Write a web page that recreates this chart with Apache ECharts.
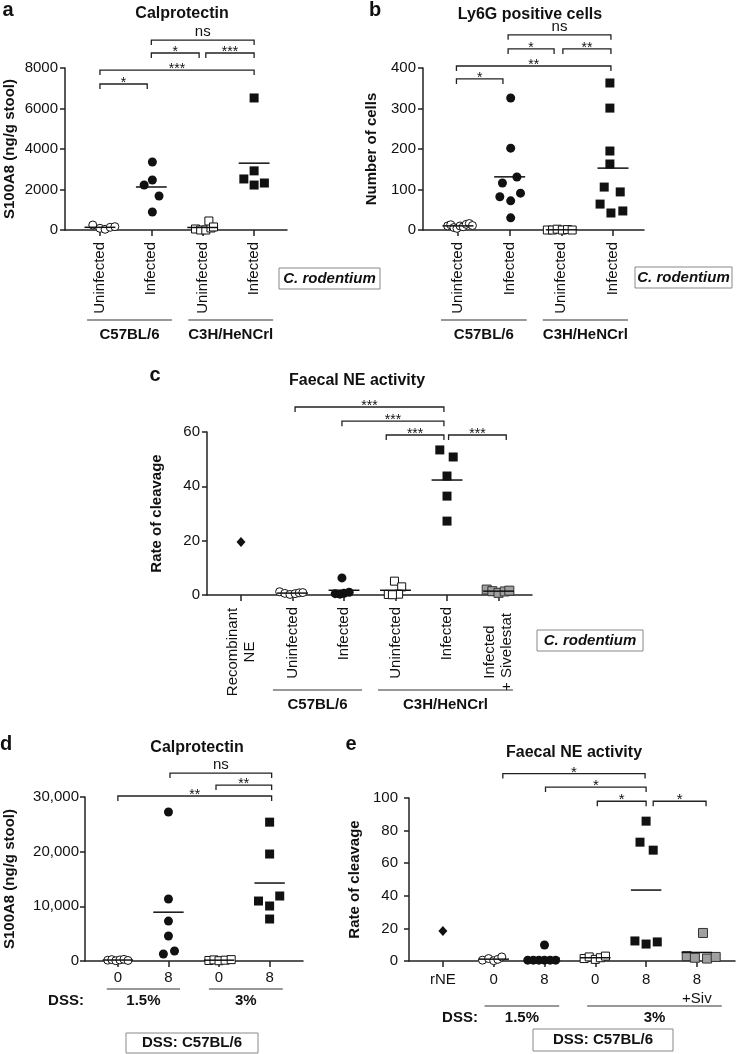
<!DOCTYPE html>
<html>
<head>
<meta charset="utf-8">
<script src="https://cdn.jsdelivr.net/npm/echarts@6/dist/echarts.min.js"></script>
<style>
  html, body { margin: 0; padding: 0; background: #fff; }
  #chart { width: 736px; height: 1054px; }
</style>
</head>
<body>
<div id="chart"></div>
<script>
// ---------------- DATA ----------------
// Panel a: Calprotectin (C. rodentium)
const aCats = ['Uninfected', 'Infected', 'Uninfected', 'Infected'];
const aTicks = [0, 2000, 4000, 6000, 8000];
const aUninfC57 = [247, 84, 35, 133, 165];
const aUninfC57Jit = [-0.14, 0, 0.1, 0.2, 0.29];
const aInfC57 = [3360, 2220, 2470, 1680, 890];
const aInfC57Jit = [0.02, -0.14, 0.02, 0.15, 0.02];
const aUninfC3H = [50, 0, 0, 100, 445, 150];
const aUninfC3HJit = [-0.14, -0.04, 0.06, 0.16, 0.12, 0.21];
const aInfC3H = [6520, 2920, 2520, 2220, 2320];
const aInfC3HJit = [0, 0, -0.2, 0, 0.2];
const aBrackets = [[1, 1.92, 7210, '*'], [1, 4, 7900, '***'], [2, 2.93, 8740, '*'], [3.06, 4, 8740, '***'], [2, 4, 9380, 'ns']];

// Panel b: Ly6G positive cells
const bCats = ['Uninfected', 'Infected', 'Uninfected', 'Infected'];
const bTicks = [0, 100, 200, 300, 400];
const bUninfC57 = [10, 13, 6, 4, 10, 8, 14, 16, 11];
const bUninfC57Jit = [-0.2, -0.14, -0.08, -0.02, 0.04, 0.1, 0.16, 0.22, 0.28];
const bInfC57 = [326, 202, 131, 116, 91, 82, 72, 30];
const bInfC57Jit = [0.02, 0.02, 0.14, -0.14, 0.21, -0.19, 0.02, 0.02];
const bUninfC3H = [0, 0, 2, 0, 1, 0];
const bUninfC3HJit = [-0.27, -0.17, -0.08, 0.02, 0.12, 0.21];
const bInfC3H = [363, 301, 195, 163, 106, 94, 64, 42, 47];
const bInfC3HJit = [-0.06, -0.06, -0.06, -0.06, -0.17, 0.14, -0.25, -0.04, 0.19];
const bBrackets = [[0.97, 1.87, 373, '*'], [0.97, 3.96, 405, '**'], [1.97, 2.86, 447, '*'], [3.03, 3.96, 447, '**'], [1.97, 3.96, 482, 'ns']];

// Panel c: Faecal NE activity (C. rodentium)
const cCats = ['Recombinant\nNE', 'Uninfected', 'Infected', 'Uninfected', 'Infected', 'Infected\n+ Sivelestat'];
const cTicks = [0, 20, 40, 60];
const cRecNE = [19.5];
const cRecNEJit = [0];
const cUninfC57 = [1.2, 0.6, 0.2, 0.5, 0.8, 0.9];
const cUninfC57Jit = [-0.25, -0.15, -0.05, 0.05, 0.13, 0.2];
const cInfC57 = [6.3, 0.5, 0.3, 0.6, 1.0];
const cInfC57Jit = [-0.04, -0.17, -0.08, 0.0, 0.1];
const cUninfC3H = [5.1, 3.0, 0.2, 0.3, 0.1];
const cUninfC3HJit = [-0.02, 0.12, -0.14, 0.06, -0.06];
const cInfC3H = [53.4, 50.8, 43.8, 36.4, 27.2];
const cInfC3HJit = [-0.14, 0.12, 0, 0, 0];
const cInfSiv = [2.0, 1.4, 0.8, 1.3, 1.6];
const cInfSivJit = [-0.23, -0.12, 0, 0.12, 0.21];
const cBrackets = [[2.05, 4.94, 69.2, '***'], [2.96, 4.94, 64, '***'], [3.82, 4.94, 58.9, '***'], [5.03, 6.15, 58.9, '***']];

// Panel d: Calprotectin (DSS)
const dCats = ['0', '8', '0', '8'];
const dTicks = [0, 10000, 20000, 30000];
const d15Day0 = [150, 250, 50, 200, 300, 100];
const d15Day0Jit = [-0.2, -0.12, -0.04, 0.04, 0.12, 0.2];
const d15Day8 = [27250, 11340, 7300, 4570, 1830, 1280];
const d15Day8Jit = [0, 0, 0, 0, 0.12, -0.1];
const d3Day0 = [100, 200, 50, 150, 250];
const d3Day0Jit = [-0.2, -0.1, 0, 0.12, 0.24];
const d3Day8 = [25400, 19570, 11890, 10970, 10060, 7680];
const d3Day8Jit = [0, 0, 0.2, -0.22, 0, 0];
const dBrackets = [[1, 4.04, 30180, '**'], [2.94, 4.04, 32190, '**'], [2.03, 4.04, 34380, 'ns']];

// Panel e: Faecal NE activity (DSS)
const eCats = ['rNE', '0', '8', '0', '8', '8\n+Siv'];
const eTicks = [0, 20, 40, 60, 80, 100];
const eRNE = [18.4];
const eRNEJit = [0];
const e15Day0 = [0.5, 1.5, 0.2, 1.0, 2.5];
const e15Day0Jit = [-0.22, -0.1, 0, 0.08, 0.16];
const e15Day8 = [9.8, 0.5, 0.5, 0.5, 0.5, 0.5, 0.5];
const e15Day8Jit = [0, -0.33, -0.22, -0.11, 0, 0.11, 0.22];
const e3Day0 = [1.5, 2.5, 1.0, 2.0, 3.0];
const e3Day0Jit = [-0.22, -0.12, 0, 0.1, 0.2];
const e3Day8 = [85.8, 72.9, 68, 12.3, 10.4, 11.7];
const e3Day8Jit = [0, -0.12, 0.14, -0.22, 0, 0.22];
const e3Day8Siv = [17.2, 3, 2, 1.5, 2.5];
const e3Day8SivJit = [0.12, -0.2, -0.04, 0.2, 0.37];
const eBrackets = [[2.18, 4.98, 115, '*'], [3.02, 5.0, 106.7, '*'], [4.04, 5.0, 98, '*'], [5.14, 6.18, 98, '*']];

// ---------------- STYLE HELPERS ----------------
const FONT = "'Liberation Sans', Arial, Helvetica, sans-serif";
const INK = '#111';
const LINE = '#222';

const OPEN_C = { symbol: 'circle', symbolSize: 8, itemStyle: { color: '#fff', borderColor: INK, borderWidth: 1, opacity: 1 } };
const FILL_C = { symbol: 'circle', symbolSize: 9, itemStyle: { color: INK, opacity: 1 } };
const OPEN_S = { symbol: 'rect', symbolSize: 8, itemStyle: { color: '#fff', borderColor: INK, borderWidth: 1, opacity: 1 } };
const FILL_S = { symbol: 'rect', symbolSize: 9, itemStyle: { color: INK, opacity: 1 } };
const GRAY_S = { symbol: 'rect', symbolSize: 9, itemStyle: { color: '#a0a0a0', borderColor: '#333', borderWidth: 1, opacity: 1 } };
const DIAM = { symbol: 'diamond', symbolSize: [9, 10], itemStyle: { color: INK, opacity: 1 } };

function mean(arr) { return arr.reduce((s, v) => s + v, 0) / arr.length; }

const series = [];

function addGroup(gi, center, vals, jit, sym, showMean, halfW) {
  series.push(Object.assign({
    type: 'scatter', xAxisIndex: gi, yAxisIndex: gi, silent: true, z: 3,
    data: vals.map((v, i) => [center + jit[i], v])
  }, JSON.parse(JSON.stringify(sym))));
  if (showMean) {
    const hw = halfW || 0.3;
    series.push({
      type: 'custom', xAxisIndex: gi, yAxisIndex: gi, silent: true, z: 4,
      data: [[center, mean(vals)]],
      renderItem: (params, api) => {
        const p1 = api.coord([api.value(0) - hw, api.value(1)]);
        const p2 = api.coord([api.value(0) + hw, api.value(1)]);
        return { type: 'line', shape: { x1: p1[0], y1: p1[1], x2: p2[0], y2: p2[1] },
          style: { stroke: INK, lineWidth: 1.5 } };
      }
    });
  }
}

function addBrackets(gi, list, starSize) {
  series.push({
    type: 'custom', xAxisIndex: gi, yAxisIndex: gi, silent: true, z: 5, clip: false,
    data: list.map(b => [b[0], b[1], b[2]]),
    encode: { x: [0, 1], y: 2 },
    renderItem: (params, api) => {
      const b = list[params.dataIndex];
      const p1 = api.coord([b[0], b[2]]);
      const p2 = api.coord([b[1], b[2]]);
      const leg = 5;
      const isNs = b[3] === 'ns';
      return { type: 'group', children: [
        { type: 'polyline', shape: { points: [[p1[0], p1[1] + leg], [p1[0], p1[1]], [p2[0], p2[1]], [p2[0], p2[1] + leg]] },
          style: { stroke: LINE, lineWidth: 1.3, fill: null } },
        { type: 'text', style: { text: b[3], x: (p1[0] + p2[0]) / 2, y: isNs ? p1[1] - 8 : p1[1] - 1,
          align: 'center', verticalAlign: 'middle', fill: INK,
          font: (isNs ? '15px ' : (starSize || 14) + 'px ') + FONT } }
      ] };
    }
  });
}

// groups under the axis: [x1, x2, label], offsets in px from the x-axis line
function addGroupLabels(gi, list, lineOff, textOff) {
  series.push({
    type: 'custom', xAxisIndex: gi, yAxisIndex: gi, silent: true, z: 5, clip: false,
    data: list.map(g => [g[0], g[1], 0]),
    encode: { x: [0, 1], y: 2 },
    renderItem: (params, api) => {
      const g = list[params.dataIndex];
      const p1 = api.coord([g[0], 0]);
      const p2 = api.coord([g[1], 0]);
      return { type: 'group', children: [
        { type: 'line', shape: { x1: p1[0], y1: p1[1] + lineOff, x2: p2[0], y2: p2[1] + lineOff },
          style: { stroke: '#333', lineWidth: 1.2 } },
        { type: 'text', style: { text: g[2], x: (p1[0] + p2[0]) / 2, y: p1[1] + textOff,
          align: 'center', verticalAlign: 'middle', fill: INK, font: 'bold 15px ' + FONT } }
      ] };
    }
  });
}

function xAx(gi, min, max, cats, rotate, margin, extra) {
  const vals = cats.map((c, i) => i + 1);
  const label = Object.assign({
    customValues: vals,
    formatter: v => cats[Math.round(v) - 1],
    rotate: rotate, margin: margin, fontSize: 15, color: INK, fontFamily: FONT
  }, extra || {});
  return {
    gridIndex: gi, type: 'value', min: min, max: max,
    axisLine: { show: true, onZero: false, lineStyle: { color: LINE, width: 1.5 } },
    axisTick: { show: true, customValues: vals, length: 6, lineStyle: { color: LINE, width: 1.5 } },
    axisLabel: label,
    splitLine: { show: false }
  };
}

function yAx(gi, ticks, name, nameGap, fmt, labelMargin) {
  return {
    gridIndex: gi, type: 'value', min: ticks[0], max: ticks[ticks.length - 1],
    interval: ticks[1] - ticks[0],
    name: name, nameLocation: 'middle', nameGap: nameGap, nameRotate: 90,
    nameTextStyle: { fontSize: 15, fontWeight: 'bold', color: INK, fontFamily: FONT },
    axisLine: { show: true, lineStyle: { color: LINE, width: 1.5 } },
    axisTick: { show: true, length: 5, lineStyle: { color: LINE, width: 1.5 } },
    axisLabel: { fontSize: 15, color: INK, fontFamily: FONT, margin: labelMargin || 7, formatter: fmt || (v => String(v)) },
    splitLine: { show: false }
  };
}

// ---------------- SERIES ----------------
// a
addGroup(0, 1, aUninfC57, aUninfC57Jit, OPEN_C, true);
addGroup(0, 2, aInfC57, aInfC57Jit, FILL_C, true);
addGroup(0, 3, aUninfC3H, aUninfC3HJit, OPEN_S, true);
addGroup(0, 4, aInfC3H, aInfC3HJit, FILL_S, true);
addBrackets(0, aBrackets);
addGroupLabels(0, [[0.75, 2.4, 'C57BL/6'], [2.72, 4.37, 'C3H/HeNCrl']], 90, 105);
// b
addGroup(1, 1, bUninfC57, bUninfC57Jit, OPEN_C, true);
addGroup(1, 2, bInfC57, bInfC57Jit, FILL_C, true);
addGroup(1, 3, bUninfC3H, bUninfC3HJit, OPEN_S, true);
addGroup(1, 4, bInfC3H, bInfC3HJit, FILL_S, true);
addBrackets(1, bBrackets);
addGroupLabels(1, [[0.67, 2.33, 'C57BL/6'], [2.64, 4.29, 'C3H/HeNCrl']], 90, 105);
// c
addGroup(2, 1, cRecNE, cRecNEJit, DIAM, false);
addGroup(2, 2, cUninfC57, cUninfC57Jit, OPEN_C, true);
addGroup(2, 3, cInfC57, cInfC57Jit, FILL_C, true);
addGroup(2, 4, cUninfC3H, cUninfC3HJit, OPEN_S, true);
addGroup(2, 5, cInfC3H, cInfC3HJit, FILL_S, true);
addGroup(2, 6, cInfSiv, cInfSivJit, GRAY_S, true);
addBrackets(2, cBrackets);
addGroupLabels(2, [[1.62, 3.35, 'C57BL/6'], [3.66, 6.28, 'C3H/HeNCrl']], 95, 110);
// d
addGroup(3, 1, d15Day0, d15Day0Jit, OPEN_C, true);
addGroup(3, 2, d15Day8, d15Day8Jit, FILL_C, true);
addGroup(3, 3, d3Day0, d3Day0Jit, OPEN_S, true);
addGroup(3, 4, d3Day8, d3Day8Jit, FILL_S, true);
addBrackets(3, dBrackets);
addGroupLabels(3, [[0.78, 2.23, '1.5%'], [2.8, 4.26, '3%']], 28, 40);
// e
addGroup(4, 1, eRNE, eRNEJit, DIAM, false);
addGroup(4, 2, e15Day0, e15Day0Jit, OPEN_C, true);
addGroup(4, 3, e15Day8, e15Day8Jit, FILL_C, true);
addGroup(4, 4, e3Day0, e3Day0Jit, OPEN_S, true);
addGroup(4, 5, e3Day8, e3Day8Jit, FILL_S, true);
addGroup(4, 6, e3Day8Siv, e3Day8SivJit, GRAY_S, true);
addBrackets(4, eBrackets, 15);
addGroupLabels(4, [[1.82, 3.29, '1.5%'], [3.84, 6.49, '3%']], 45, 57);

// ---------------- GRAPHIC (titles, letters, boxes) ----------------
function txt(x, y, text, font, align) {
  return { type: 'text', x: x, y: y, silent: true,
    style: { text: text, font: font, fill: INK, align: align || 'center', verticalAlign: 'middle' } };
}
function box(x, y, w, h, text, font) {
  return { type: 'group', silent: true, children: [
    { type: 'rect', shape: { x: x, y: y, width: w, height: h }, style: { fill: '#fff', stroke: '#888', lineWidth: 1 } },
    txt(x + w / 2, y + h / 2, text, font)
  ] };
}
const TITLE_F = 'bold 16px ' + FONT;
const LETTER_F = 'bold 20px ' + FONT;
const BOX_IT = 'italic bold 15px ' + FONT;
const BOX_F = 'bold 15px ' + FONT;

const graphic = [
  txt(8, 10, 'a', LETTER_F), txt(375, 10, 'b', LETTER_F), txt(155, 375, 'c', LETTER_F),
  txt(6, 744, 'd', LETTER_F), txt(351, 744, 'e', LETTER_F),
  txt(182, 14, 'Calprotectin', TITLE_F),
  txt(530, 15, 'Ly6G positive cells', TITLE_F),
  txt(357, 381, 'Faecal NE activity', TITLE_F),
  txt(197, 748, 'Calprotectin', TITLE_F),
  txt(574, 753, 'Faecal NE activity', TITLE_F),
  box(279, 268, 101, 21, 'C. rodentium', BOX_IT),
  box(635, 267, 97, 21, 'C. rodentium', BOX_IT),
  box(537, 630, 106, 21, 'C. rodentium', BOX_IT),
  box(126, 1033, 132, 20, 'DSS: C57BL/6', BOX_F),
  box(533, 1029, 140, 22, 'DSS: C57BL/6', BOX_F),
  txt(66, 1001, 'DSS:', BOX_F),
  txt(460, 1018, 'DSS:', BOX_F)
];

// ---------------- OPTION ----------------
const cRich = { w: { width: 90, align: 'center', fontSize: 15, lineHeight: 17, color: INK, fontFamily: FONT } };
const option = {
  animation: false,
  backgroundColor: '#fff',
  grid: [
    { left: 65, top: 68, width: 222, height: 162 },
    { left: 423, top: 68, width: 221, height: 162 },
    { left: 207, top: 432, width: 325, height: 163 },
    { left: 85, top: 797, width: 218, height: 164 },
    { left: 409, top: 798, width: 326, height: 163 }
  ],
  xAxis: [
    xAx(0, 0.32, 4.64, aCats, 90, 12),
    xAx(1, 0.323, 4.6, bCats, 90, 12),
    xAx(2, 0.34, 6.65, cCats, 90, 12, {
      formatter: v => {
        const s = cCats[Math.round(v) - 1];
        if (s.indexOf('\n') < 0) return s;
        return s.split('\n').map(p => '{w|' + p + '}').join('\n');
      },
      rich: cRich
    }),
    xAx(3, 0.35, 4.66, dCats, 0, 9),
    xAx(4, 0.333, 6.75, eCats, 0, 9, { lineHeight: 19 })
  ],
  yAxis: [
    yAx(0, aTicks, 'S100A8 (ng/g stool)', 48),
    yAx(1, bTicks, 'Number of cells', 44),
    yAx(2, cTicks, 'Rate of cleavage', 43),
    yAx(3, dTicks, 'S100A8 (ng/g stool)', 68, v => v.toLocaleString('en-US'), 6),
    yAx(4, eTicks, 'Rate of cleavage', 47, null, 11)
  ],
  series: series,
  graphic: graphic
};

const chart = echarts.init(document.getElementById('chart'), null, { renderer: 'canvas' });
chart.setOption(option);
</script>
</body>
</html>
